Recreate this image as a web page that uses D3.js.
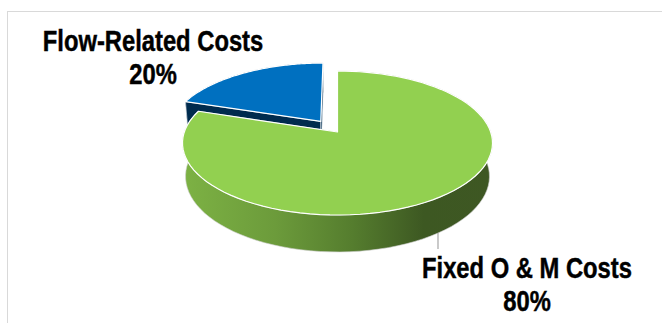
<!DOCTYPE html>
<html>
<head>
<meta charset="utf-8">
<script src="https://cdn.jsdelivr.net/npm/d3@7"></script>
<style>
  html, body { margin: 0; padding: 0; background: #fff; }
  svg { display: block; }
</style>
</head>
<body>
<script>
// Cost split data
const categories = ["Fixed O & M Costs", "Flow-Related Costs"];
const values = [80, 20];
const explode = [0, 0.19];            // outward pull of each slice (pie radii)
const topColors = ["#92D050", "#0070C0"];
const sideColors = ["url(#greenWall)", "#002B4E"];

const W = 662, H = 323;

const svg = d3.select("body").append("svg")
  .attr("width", W).attr("height", H);

const defs = svg.append("defs");
const grad = defs.append("linearGradient")
  .attr("id", "greenWall")
  .attr("gradientUnits", "userSpaceOnUse")
  .attr("x1", 182).attr("x2", 492).attr("y1", 0).attr("y2", 0);
[[0, "#7DB244"], [0.3, "#6C9B3B"], [0.55, "#557D2E"], [0.78, "#3D5822"], [1, "#3E5723"]]
  .forEach(([o, c]) => grad.append("stop").attr("offset", o).attr("stop-color", c));

// chart frame
svg.append("rect")
  .attr("x", 7.5).attr("y", 11.5).attr("width", 720).attr("height", 400)
  .attr("fill", "none").attr("stroke", "#D9D9D9").attr("stroke-width", 1);

// 3D perspective camera for a unit-radius pie lying flat
const cam = { cx: 337.5, cy: 132, D: 5.81, sa: 0.459, ca: 0.889, k: 890 };
const thickness = 0.247;
function proj(wx, wz, h) {
  const depth = cam.D + wz * cam.ca + h * cam.sa;
  const yc = -h * cam.ca + wz * cam.sa;
  return [cam.cx + cam.k * wx / depth, cam.cy - cam.k * yc / depth];
}

const pie = d3.pie().sort(null).value(d => d.value);
const arcs = pie(categories.map((c, i) => ({ name: c, value: values[i], i })));
const total = d3.sum(values);
const pct = d3.format(".0%");
const line = d3.line();

function rim(a0, a1, ox, oz, h, steps = 90) {
  const pts = [];
  for (let s = 0; s <= steps; s++) {
    const a = a0 + (a1 - a0) * s / steps;
    pts.push(proj(ox + Math.sin(a), oz + Math.cos(a), h));
  }
  return pts;
}

function drawSlice(d) {
  const i = d.data.i;
  const mid = (d.startAngle + d.endAngle) / 2;
  const ox = explode[i] * Math.sin(mid), oz = explode[i] * Math.cos(mid);
  const g = svg.append("g").attr("class", "slice");

  // outer wall
  const topRim = rim(d.startAngle, d.endAngle, ox, oz, 0);
  const botRim = rim(d.startAngle, d.endAngle, ox, oz, thickness).reverse();
  g.append("path")
    .attr("d", line(topRim.concat(botRim)) + "Z")
    .attr("fill", sideColors[i])
    .attr("stroke", "#D0D0D0").attr("stroke-width", 0.6);

  // radial cut faces
  [d.startAngle, d.endAngle].forEach(a => {
    const q = [
      proj(ox, oz, 0),
      proj(ox + Math.sin(a), oz + Math.cos(a), 0),
      proj(ox + Math.sin(a), oz + Math.cos(a), thickness),
      proj(ox, oz, thickness)
    ];
    g.append("path").attr("d", line(q) + "Z")
      .attr("fill", i === 0 ? "#4E7229" : "#002B4E")
      .attr("stroke", "#E8EEF4").attr("stroke-width", 0.6);
  });

  // top face
  const face = [proj(ox, oz, 0)].concat(rim(d.startAngle, d.endAngle, ox, oz, 0));
  g.append("path")
    .attr("d", line(face) + "Z")
    .attr("fill", topColors[i])
    .attr("stroke", "#FFFFFF").attr("stroke-width", 1.2)
    .attr("stroke-linejoin", "round");
}

// far (exploded) slice first, then the large slice in front of it
drawSlice(arcs[1]);
drawSlice(arcs[0]);

// leader line for the large slice
svg.append("line")
  .attr("x1", 438).attr("y1", 233).attr("x2", 438).attr("y2", 249)
  .attr("stroke", "#A6A6A6").attr("stroke-width", 1.2);

// data labels, set in a narrow bold face
const labelPos = [[527, 278], [153, 51]];
arcs.forEach((d, i) => {
  const t = svg.append("text")
    .attr("transform", `translate(${labelPos[i][0]},${labelPos[i][1]}) scale(0.82,1)`)
    .attr("text-anchor", "middle")
    .attr("font-family", "'Liberation Sans', Arial, sans-serif")
    .attr("font-weight", "bold")
    .attr("font-size", 29)
    .attr("fill", "#000")
    .attr("stroke", "#000")
    .attr("stroke-width", 0.45);
  t.append("tspan").attr("x", 0).attr("y", 0).text(d.data.name);
  t.append("tspan").attr("x", 0).attr("y", 33.5).text(pct(d.data.value / total));
});
</script>
</body>
</html>
